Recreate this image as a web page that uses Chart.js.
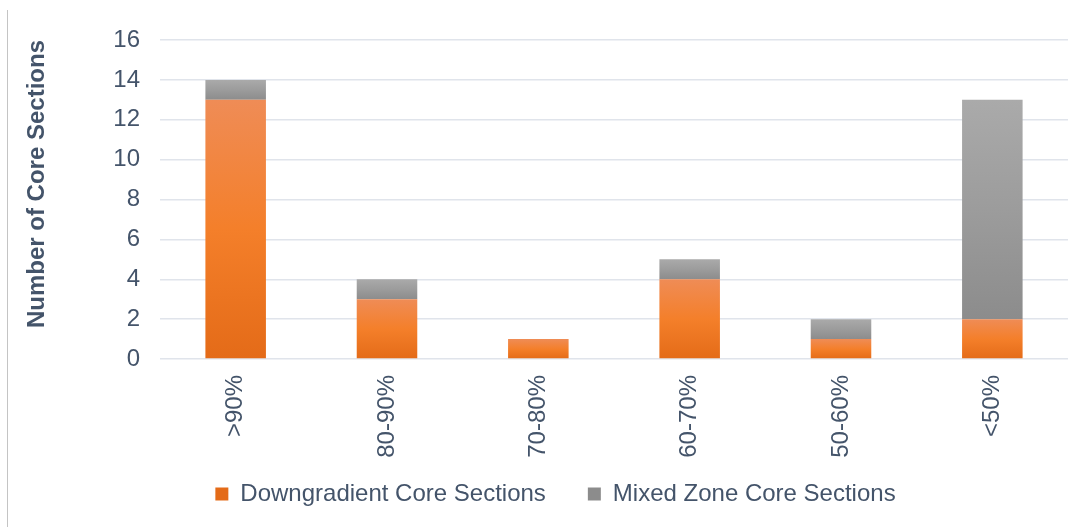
<!DOCTYPE html>
<html>
<head>
<meta charset="utf-8">
<script src="https://cdn.jsdelivr.net/npm/chart.js@4"></script>
<style>
    html, body { margin: 0; padding: 0; background: #fff; }
    #wrap { position: relative; width: 1082px; height: 527px; }
    #edge { position: absolute; left: 7px; top: 10px; bottom: 0; border-left: 1px solid #c4c4c4; }
</style>
</head>
<body>
<div id="wrap">
    <canvas id="coreChart" width="1082" height="527"></canvas>
    <div id="edge"></div>
</div>
<script>
// Core section counts by percentage bin
const categories = ['>90%', '80-90%', '70-80%', '60-70%', '50-60%', '<50%'];
const downgradient = [13, 3, 1, 4, 1, 2];
const mixedZone = [1, 1, 0, 1, 1, 11];
const yTicks = [0, 2, 4, 6, 8, 10, 12, 14, 16];

const textColor = '#44546A';
const fontFamily = '"Liberation Sans", Arial, sans-serif';

// Each stacked segment gets its own top-to-bottom gradient
function segmentGradient(ctx, lowVals, highVals, stops) {
    if (ctx.type !== 'data') return stops[1];
    const chart = ctx.chart;
    if (!chart.chartArea || !chart.scales.y) return stops[1];
    const y = chart.scales.y;
    const i = ctx.dataIndex;
    const base = lowVals ? lowVals[i] : 0;
    const top = base + highVals[i];
    const y0 = y.getPixelForValue(top);
    const y1 = y.getPixelForValue(base);
    if (!isFinite(y0) || !isFinite(y1) || y0 === y1) return stops[1];
    const g = chart.ctx.createLinearGradient(0, y0, 0, y1);
    g.addColorStop(0, stops[0]);
    g.addColorStop(0.5, stops[1]);
    g.addColorStop(1, stops[2]);
    return g;
}

const orangeStops = ['#EF8C56', '#F47F2A', '#E46B18'];
const grayStops = ['#AAAAAA', '#9C9C9C', '#8C8C8C'];

// fixed legend band; the row is nudged up/right after layout
const legendBand = {
    id: 'legendBand',
    beforeInit(chart) {
        const origFit = chart.legend.fit;
        chart.legend.fit = function () {
            origFit.call(this);
            this.height = 68;
        };
    },
    afterLayout(chart) {
        const lg = chart.legend;
        lg.top -= 19;
        lg.left += 12;
        lg.right += 12;
    }
};

new Chart(document.getElementById('coreChart'), {
    type: 'bar',
    data: {
        labels: categories,
        datasets: [
            {
                label: 'Downgradient Core Sections',
                data: downgradient,
                backgroundColor: (ctx) => segmentGradient(ctx, null, downgradient, orangeStops),
                borderWidth: 0,
                categoryPercentage: 0.4,
                barPercentage: 1.0
            },
            {
                label: 'Mixed Zone Core Sections',
                data: mixedZone,
                backgroundColor: (ctx) => segmentGradient(ctx, downgradient, mixedZone, grayStops),
                borderWidth: 0,
                categoryPercentage: 0.4,
                barPercentage: 1.0
            }
        ]
    },
    options: {
        responsive: false,
        animation: false,
        layout: {
            padding: { left: 19, right: 14, top: 40, bottom: 0 }
        },
        scales: {
            x: {
                stacked: true,
                grid: { display: false },
                border: { display: false },
                ticks: {
                    color: textColor,
                    font: { family: fontFamily, size: 24 },
                    minRotation: 90,
                    maxRotation: 90,
                    padding: 8
                },
                afterFit: (scale) => { scale.height = 100; }
            },
            y: {
                stacked: true,
                min: 0,
                max: 16,
                afterBuildTicks: (scale) => {
                    scale.ticks = yTicks.map(v => ({ value: v }));
                },
                grid: {
                    color: '#E0E4EB',
                    lineWidth: 1.5,
                    drawTicks: false
                },
                border: { display: false },
                ticks: {
                    color: textColor,
                    font: { family: fontFamily, size: 24 },
                    padding: 20
                },
                title: {
                    display: true,
                    align: 'end',
                    text: 'Number of Core Sections',
                    color: textColor,
                    font: { family: fontFamily, size: 24, weight: 'bold' }
                },
                afterFit: (scale) => { scale.width = 141; }
            }
        },
        plugins: {
            legend: {
                position: 'bottom',
                labels: {
                    color: textColor,
                    font: { family: fontFamily, size: 24 },
                    boxWidth: 13,
                    boxHeight: 13,
                    padding: 42
                }
            },
            tooltip: { enabled: false }
        }
    },
    plugins: [legendBand]
});
</script>
</body>
</html>
